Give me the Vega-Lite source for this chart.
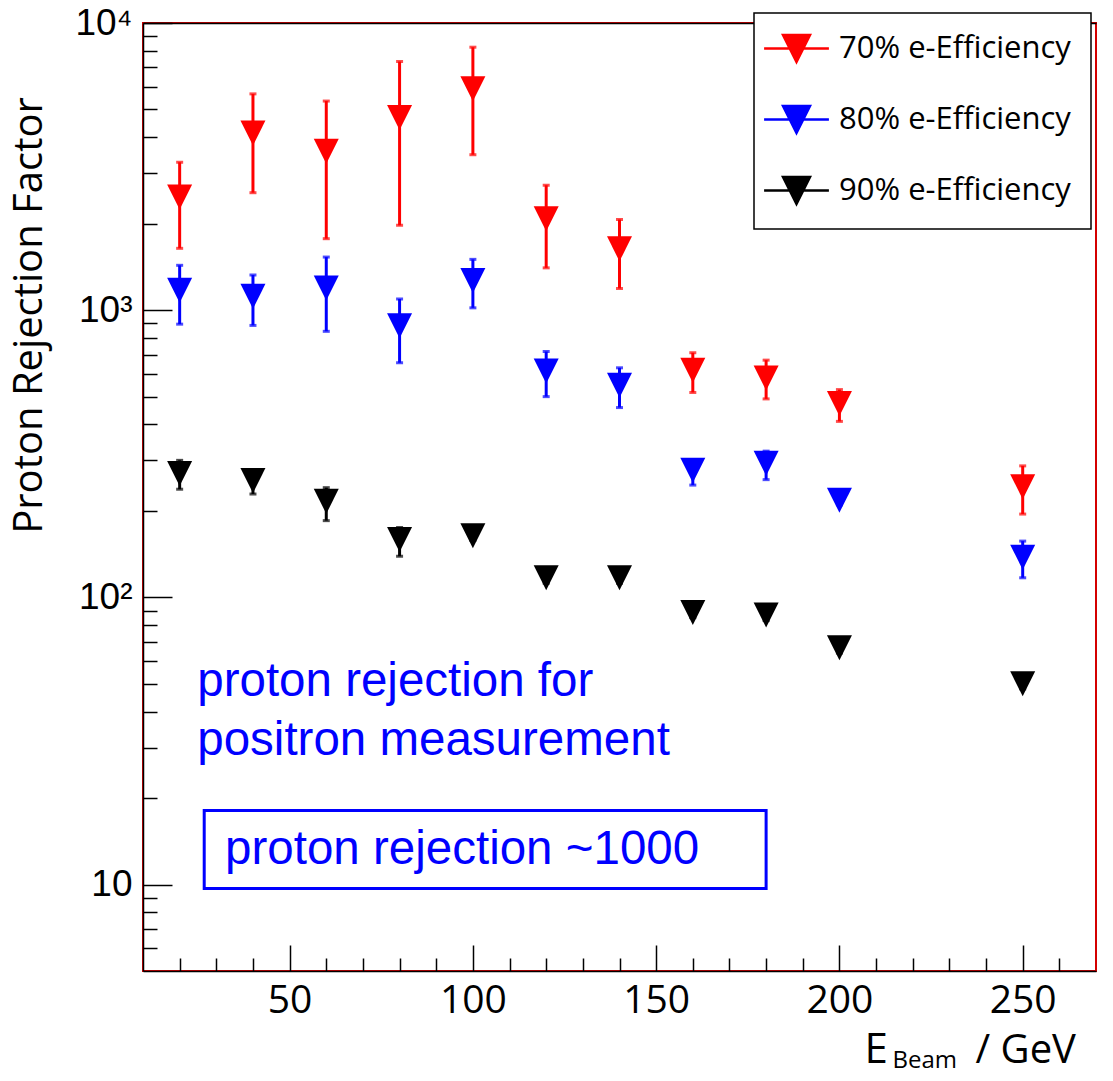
{
  "$schema": "https://vega.github.io/schema/vega-lite/v6.json",
  "width": 953,
  "height": 948,
  "autosize": {"type": "none"},
  "padding": {"left": 143, "top": 23, "right": 17, "bottom": 110},
  "background": "white",
  "config": {
    "view": {"stroke": "#d40000", "strokeWidth": 2},
    "legend": {
      "orient": "none",
      "legendX": 611,
      "legendY": -10,
      "labelFont": "Open Sans",
      "labelFontSize": 31,
      "labelColor": "black",
      "labelLimit": 500,
      "strokeColor": "black",
      "strokeWidth": 1.5,
      "fillColor": "white",
      "padding": 20,
      "rowPadding": 34,
      "symbolType": "M-2.4,0L2.4,0M-1,-1L1,-1L0,1Z",
      "symbolSize": 729,
      "symbolOffset": 7,
      "symbolOpacity": 1,
      "labelOffset": 27,
      "symbolStrokeWidth": 2.5
    }
  },
  "datasets": {
    "points": [
      {"series": "70% e-Efficiency", "E": 20, "R": 2477, "lo": 1642, "hi": 3274},
      {"series": "70% e-Efficiency", "E": 40, "R": 4141, "lo": 2565, "hi": 5665},
      {"series": "70% e-Efficiency", "E": 60, "R": 3573, "lo": 1774, "hi": 5348},
      {"series": "70% e-Efficiency", "E": 80, "R": 4688, "lo": 1974, "hi": 7342},
      {"series": "70% e-Efficiency", "E": 100, "R": 5900, "lo": 3478, "hi": 8236},
      {"series": "70% e-Efficiency", "E": 120, "R": 2081, "lo": 1404, "hi": 2723},
      {"series": "70% e-Efficiency", "E": 140, "R": 1635, "lo": 1190, "hi": 2069},
      {"series": "70% e-Efficiency", "E": 160, "R": 618, "lo": 517, "hi": 711},
      {"series": "70% e-Efficiency", "E": 180, "R": 581, "lo": 491, "hi": 670},
      {"series": "70% e-Efficiency", "E": 200, "R": 473, "lo": 410, "hi": 529},
      {"series": "70% e-Efficiency", "E": 250, "R": 243, "lo": 195, "hi": 287},
      {"series": "80% e-Efficiency", "E": 20, "R": 1173, "lo": 894, "hi": 1433},
      {"series": "80% e-Efficiency", "E": 40, "R": 1118, "lo": 885, "hi": 1326},
      {"series": "80% e-Efficiency", "E": 60, "R": 1195, "lo": 844, "hi": 1531},
      {"series": "80% e-Efficiency", "E": 80, "R": 882, "lo": 656, "hi": 1094},
      {"series": "80% e-Efficiency", "E": 100, "R": 1268, "lo": 1019, "hi": 1503},
      {"series": "80% e-Efficiency", "E": 120, "R": 614, "lo": 500, "hi": 718},
      {"series": "80% e-Efficiency", "E": 140, "R": 548, "lo": 458, "hi": 630},
      {"series": "80% e-Efficiency", "E": 160, "R": 277, "lo": 246, "hi": 290},
      {"series": "80% e-Efficiency", "E": 180, "R": 293, "lo": 257, "hi": 323},
      {"series": "80% e-Efficiency", "E": 200, "R": 218, "lo": 210, "hi": 226},
      {"series": "80% e-Efficiency", "E": 250, "R": 138, "lo": 117, "hi": 157},
      {"series": "90% e-Efficiency", "E": 20, "R": 270, "lo": 238, "hi": 300},
      {"series": "90% e-Efficiency", "E": 40, "R": 255, "lo": 229, "hi": 265},
      {"series": "90% e-Efficiency", "E": 60, "R": 216, "lo": 185, "hi": 241},
      {"series": "90% e-Efficiency", "E": 80, "R": 159, "lo": 139, "hi": 175},
      {"series": "90% e-Efficiency", "E": 100, "R": 164, "lo": 158, "hi": 170},
      {"series": "90% e-Efficiency", "E": 120, "R": 117, "lo": 112, "hi": 122},
      {"series": "90% e-Efficiency", "E": 140, "R": 117, "lo": 112, "hi": 122},
      {"series": "90% e-Efficiency", "E": 160, "R": 88.5, "lo": 85, "hi": 92},
      {"series": "90% e-Efficiency", "E": 180, "R": 86.9, "lo": 83, "hi": 90},
      {"series": "90% e-Efficiency", "E": 200, "R": 66.8, "lo": 64, "hi": 69},
      {"series": "90% e-Efficiency", "E": 250, "R": 50, "lo": 48, "hi": 52}
    ],
    "notes": [
      {"x": 24.8, "y": 45.3, "text": "proton rejection for"},
      {"x": 24.8, "y": 28.3, "text": "positron measurement"},
      {"x": 32.4, "y": 11.75, "text": "proton rejection ~1000"}
    ],
    "box": [
      {"x": 26.7, "x2": 180.0, "y": 18.1, "y2": 9.69}
    ]
  },
  "resolve": {"axis": {"x": "independent"}},
  "layer": [
    {
      "data": {"name": "box"},
      "mark": {"type": "rect", "fill": null, "stroke": "#0000ff", "strokeWidth": 3},
      "encoding": {
        "x": {
          "field": "x", "type": "quantitative",
          "scale": {"domain": [10, 270], "nice": false, "zero": false},
          "axis": {"orient": "top", "domain": true, "domainColor": "black", "domainWidth": 1.5, "ticks": false, "labels": false, "grid": false, "title": null}
        },
        "x2": {"field": "x2"},
        "y": {
          "field": "y", "type": "quantitative",
          "scale": {"type": "log", "domain": [5, 10000], "nice": false},
          "axis": {
            "values": [6, 7, 8, 9, 10, 20, 30, 40, 50, 60, 70, 80, 90, 100, 200, 300, 400, 500, 600, 700, 800, 900, 1000, 2000, 3000, 4000, 5000, 6000, 7000, 8000, 9000, 10000],
            "labelExpr": "datum.value == 10000 ? '10⁴' : datum.value == 1000 ? '10³' : datum.value == 100 ? '10²' : datum.value == 10 ? '10' : ''",
            "tickSize": {"condition": {"test": "datum.value == 10 || datum.value == 100 || datum.value == 1000 || datum.value == 10000", "value": -29}, "value": -14},
            "tickColor": "black",
            "tickWidth": 1.5,
            "domainColor": "black",
            "domainWidth": 1.5,
            "grid": false,
            "labelFont": "Liberation Sans",
            "labelFontSize": 37,
            "labelColor": "black",
            "labelPadding": 40,
            "labelFlush": false,
            "labelOverlap": false,
            "title": "Proton Rejection Factor",
            "titleFont": "Open Sans",
            "titleFontSize": 40,
            "titleFontWeight": "normal",
            "titleColor": "black",
            "titleAngle": -90,
            "titleX": -102,
            "titleY": 292,
            "titleAlign": "center",
            "titleBaseline": "alphabetic",
            "titleAnchor": null
          }
        },
        "y2": {"field": "y2"}
      }
    },
    {
      "data": {"name": "notes"},
      "mark": {"type": "text", "align": "left", "baseline": "alphabetic", "font": "Liberation Sans", "fontSize": 47.5, "color": "#0000ff"},
      "encoding": {
        "x": {"field": "x", "type": "quantitative", "axis": null},
        "y": {"field": "y", "type": "quantitative"},
        "text": {"field": "text", "type": "nominal"}
      }
    },
    {
      "data": {"name": "points"},
      "mark": {"type": "rule", "strokeWidth": 3},
      "encoding": {
        "x": {
          "field": "E", "type": "quantitative",
          "axis": {
            "orient": "bottom",
            "values": [20, 30, 40, 50, 60, 70, 80, 90, 100, 110, 120, 130, 140, 150, 160, 170, 180, 190, 200, 210, 220, 230, 240, 250, 260],
            "labelExpr": "datum.value % 50 == 0 ? datum.label : ''",
            "tickSize": {"condition": {"test": "datum.value % 50 == 0", "value": -26}, "value": -13},
            "tickColor": "black",
            "tickWidth": 1.5,
            "domainColor": "black",
            "domainWidth": 1.5,
            "grid": false,
            "labelFont": "Open Sans",
            "labelFontSize": 39,
            "labelColor": "black",
            "labelPadding": 36,
            "labelFlush": false,
            "title": "/ GeV",
            "titleFont": "Open Sans",
            "titleFontSize": 40,
            "titleFontWeight": "normal",
            "titleColor": "black",
            "titleX": 832,
            "titleY": 91,
            "titleAlign": "left",
            "titleBaseline": "alphabetic",
            "titleAnchor": null
          }
        },
        "y": {"field": "lo", "type": "quantitative"},
        "y2": {"field": "hi"},
        "color": {
          "field": "series", "type": "nominal",
          "scale": {"domain": ["70% e-Efficiency", "80% e-Efficiency", "90% e-Efficiency"], "range": ["#ff0000", "#0000ff", "#000000"]}
        }
      }
    },
    {
      "data": {"name": "points"},
      "transform": [{"fold": ["lo", "hi"], "as": ["end", "val"]}],
      "mark": {"type": "tick", "orient": "horizontal", "size": 7, "thickness": 3},
      "encoding": {
        "x": {
          "field": "E", "type": "quantitative",
          "axis": {
            "orient": "bottom", "domain": false, "ticks": false, "labels": false, "grid": false,
            "title": "Beam",
            "titleFont": "Open Sans", "titleFontSize": 24, "titleFontWeight": "normal", "titleColor": "black",
            "titleX": 749, "titleY": 96, "titleAlign": "left", "titleBaseline": "alphabetic", "titleAnchor": null
          }
        },
        "y": {"field": "val", "type": "quantitative"},
        "color": {"field": "series", "type": "nominal"}
      }
    },
    {
      "data": {"name": "points"},
      "mark": {"type": "point", "shape": "M-1,-1L1,-1L0,1Z", "size": 625, "filled": true, "opacity": 1},
      "encoding": {
        "x": {
          "field": "E", "type": "quantitative",
          "axis": {
            "orient": "bottom", "domain": false, "ticks": false, "labels": false, "grid": false,
            "title": "E",
            "titleFont": "Open Sans", "titleFontSize": 42, "titleFontWeight": "normal", "titleColor": "black",
            "titleX": 721, "titleY": 91, "titleAlign": "left", "titleBaseline": "alphabetic", "titleAnchor": null
          }
        },
        "y": {"field": "R", "type": "quantitative"},
        "color": {
          "field": "series", "type": "nominal",
          "legend": {
            "title": null,
            "encode": {"symbols": {"update": {"stroke": {"scale": "color", "field": "value"}, "strokeWidth": {"value": 2.5}, "opacity": {"value": 1}}}}
          }
        }
      }
    }
  ]
}
